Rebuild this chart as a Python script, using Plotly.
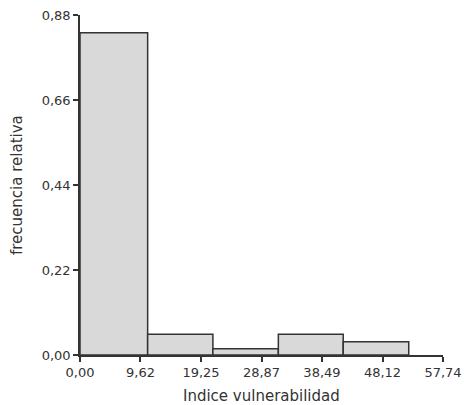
import plotly.graph_objects as go

# Data
bin_edges = [0.0, 10.76, 21.14, 31.55, 41.87, 52.29]
rel_freq = [0.834, 0.054, 0.016, 0.054, 0.034]

x_tickvals = [0.00, 9.62, 19.25, 28.87, 38.49, 48.12, 57.74]
x_ticktext = ["0,00", "9,62", "19,25", "28,87", "38,49", "48,12", "57,74"]
y_tickvals = [0.00, 0.22, 0.44, 0.66, 0.88]
y_ticktext = ["0,00", "0,22", "0,44", "0,66", "0,88"]

centers = [(a + b) / 2 for a, b in zip(bin_edges[:-1], bin_edges[1:])]
widths = [b - a for a, b in zip(bin_edges[:-1], bin_edges[1:])]

fig = go.Figure(go.Bar(
    x=centers, y=rel_freq, width=widths,
    marker=dict(color="#d9d9d9", line=dict(color="#333333", width=1.5)),
    hoverinfo="skip",
))

font_family = "DejaVu Sans, sans-serif"
W, H = 464, 405
L, R, T, B = 80, 21, 15, 50
plot_h = H - T - B
plot_w = W - L - R
fig.update_layout(
    width=W, height=H,
    margin=dict(l=L, r=R, t=T, b=B, autoexpand=False),
    paper_bgcolor="white", plot_bgcolor="white",
    showlegend=False,
    font=dict(family=font_family, color="#333333", size=13),
    xaxis=dict(
        range=[0, 57.74], tickvals=x_tickvals, ticktext=x_ticktext,
        showgrid=False, zeroline=False, showline=True, linecolor="#333333", linewidth=1.5,
        ticks="outside", ticklen=5, tickwidth=1.5, tickcolor="#333333",
        ticklabelstandoff=0, automargin=False, ticklabeloverflow="allow",
    ),
    yaxis=dict(
        range=[0, 0.88], tickvals=y_tickvals, ticktext=y_ticktext,
        showgrid=False, zeroline=False, showline=True, linecolor="#333333", linewidth=1.5,
        ticks="outside", ticklen=5, tickwidth=1.5, tickcolor="#333333",
        automargin=False, ticklabeloverflow="allow",
    ),
    annotations=[
        dict(text="Indice vulnerabilidad", xref="paper", yref="paper",
             x=0.5, y=-(396 - 355) / plot_h, xanchor="center", yanchor="middle",
             showarrow=False, font=dict(size=15, color="#333333")),
        dict(text="frecuencia relativa", xref="paper", yref="paper",
             x=-(80 - 17) / plot_w, y=0.5, xanchor="center", yanchor="middle",
             textangle=-90, showarrow=False, font=dict(size=15, color="#333333")),
    ],
)

fig.write_html(
    "out.html",
    config={"displayModeBar": False},
    post_script="document.body.style.margin='0';"
                "document.documentElement.style.overflow='hidden';"
                "document.body.style.overflow='hidden';",
)
